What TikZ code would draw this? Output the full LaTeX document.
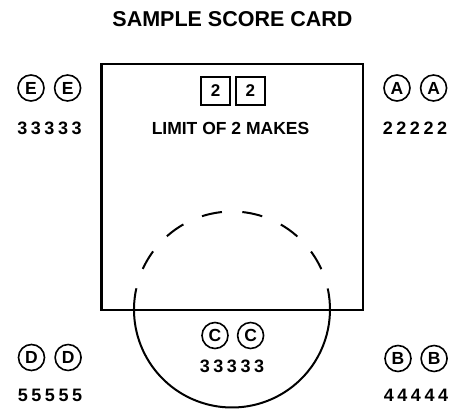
\documentclass[tikz,border=0pt]{standalone}
\usepackage{fontspec}
\setmainfont{Liberation Sans}
\usetikzlibrary{positioning}

% digits of a score, spread apart
\newcommand{\spread}[1]{\spreadloop#1\relax}
\def\spreadloop#1#2{#1\ifx\relax#2\else\kern3.6pt\expandafter\spreadloop\expandafter#2\fi}

\tikzset{
  cardline/.style={line width=2.6pt},
  pitchline/.style={line width=2pt},
  headline/.style={font=\fontsize{21.5}{24}\selectfont\bfseries},
  ruleline/.style={font=\fontsize{17.5}{20}\selectfont\bfseries},
  scoreline/.style={font=\fontsize{18}{20}\selectfont\bfseries},
  letterring/.style={draw, circle, line width=1.6pt, minimum size=26pt, inner sep=0pt,
    font=\fontsize{17.5}{19}\selectfont\bfseries},
  makebox/.style={draw, rectangle, line width=1.8pt, minimum width=29pt, minimum height=28pt,
    inner sep=0pt, font=\fontsize{17}{19}\selectfont\bfseries},
}

\begin{document}
\begin{tikzpicture}[x=1pt, y=-1pt]
  \useasboundingbox (0,0) rectangle (459,409);
  \node[headline] (title) at (232.5,19.5) {SAMPLE SCORE CARD};
  % ---- card ----
  \draw[cardline] (101.5,64) rectangle (363,310);
  \node[makebox] (make1) at (215.5,91) {2};
  \node[makebox, right=4pt of make1] (make2) {2};
  \node[ruleline] (limit) at (230.5,128) {LIMIT OF 2 MAKES};
  % ---- circle: solid below, dashed inside the card ----
  \coordinate (hole) at (232,309.5);
  \draw[pitchline] (hole) ++(192.4:98) arc[start angle=192.4, end angle=-12.4, radius=98];
  \draw[pitchline, dash pattern=on 20.4pt off 20.4pt, dash phase=20.4pt]
    (hole) ++(-12.4:98) arc[start angle=-12.4, end angle=-167.6, radius=98];
  % ---- corner scores ----
  \node[letterring] (e1) at (31,88) {E};
  \node[letterring, right=9pt of e1] (e2) {E};
  \node[scoreline] (escore) at (49.5,128) {\spread{33333}};
  \node[letterring] (a1) at (397,88) {A};
  \node[letterring, right=9pt of a1] (a2) {A};
  \node[scoreline] (ascore) at (415,128) {\spread{22222}};
  \node[letterring] (c1) at (215,335.5) {C};
  \node[letterring, right=8pt of c1] (c2) {C};
  \node[scoreline] (cscore) at (232,366.5) {\spread{33333}};
  \node[letterring] (d1) at (31.5,357.5) {D};
  \node[letterring, right=9pt of d1] (d2) {D};
  \node[scoreline] (dscore) at (50,395.5) {\spread{55555}};
  \node[letterring] (b1) at (398,358.5) {B};
  \node[letterring, right=8.5pt of b1] (b2) {B};
  \node[scoreline] (bscore) at (416,395) {\spread{44444}};
\end{tikzpicture}
\end{document}
